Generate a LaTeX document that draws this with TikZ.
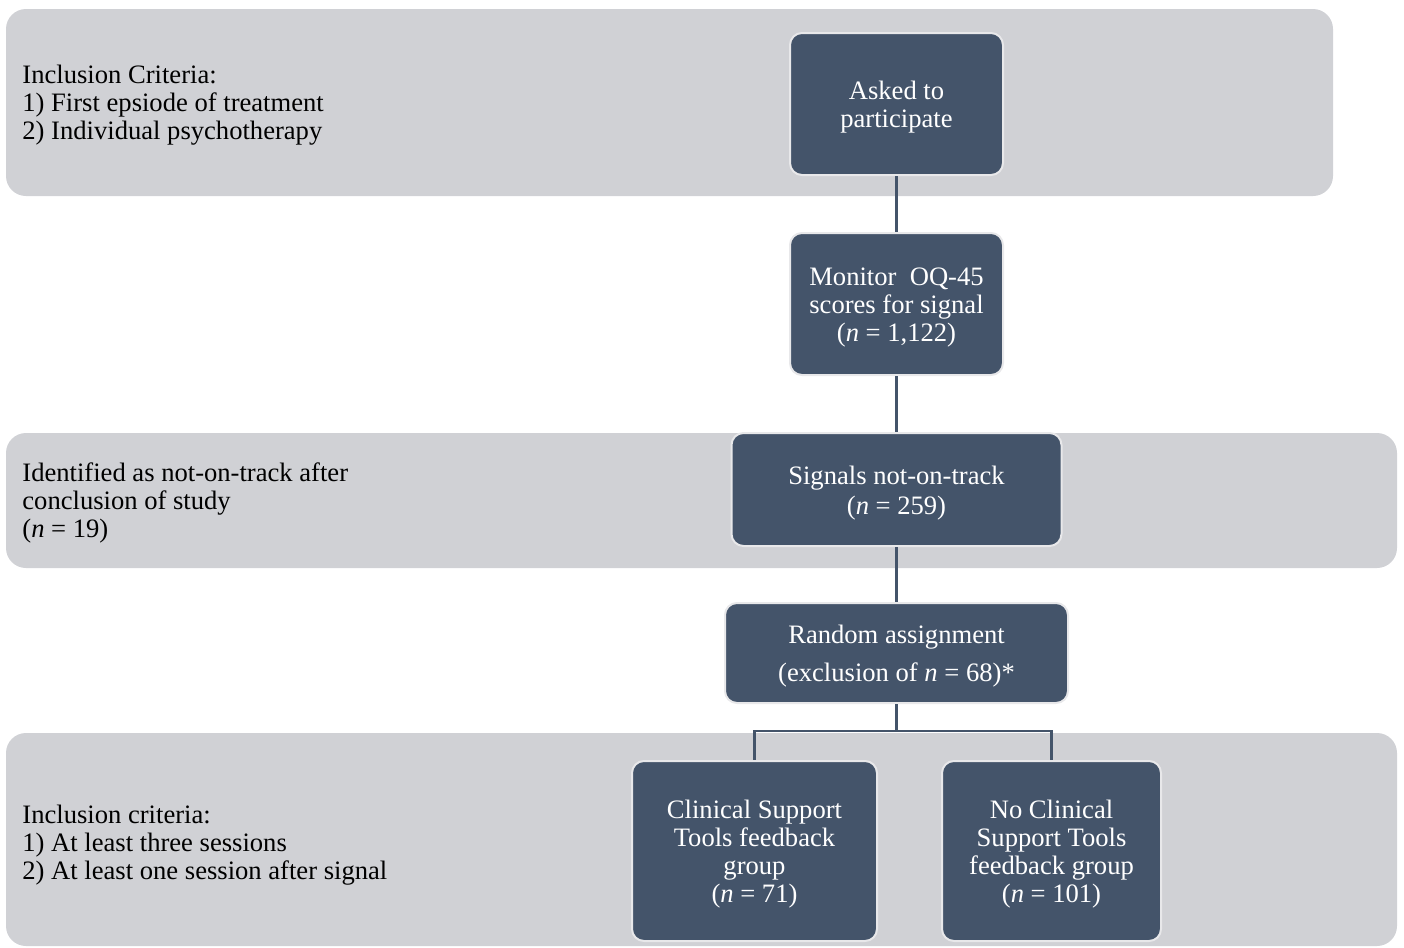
\documentclass[tikz,border=0pt]{standalone}
\usepackage{fontspec}
\setmainfont{Liberation Serif}
\definecolor{bandgray}{HTML}{D0D1D5}
\definecolor{boxblue}{HTML}{44546A}
\definecolor{boxedge}{HTML}{E8E8EA}
\tikzset{
  band/.style={fill=bandgray, rounded corners=10pt, draw=none},
  stepbox/.style={fill=boxblue, draw=boxedge, line width=1pt, rounded corners=6pt, inner sep=0pt},
  steptext/.style={text=white, align=center, font=\fontsize{13.3}{14}\selectfont, inner sep=0pt, yshift=-1.6pt},
  bandtext/.style={anchor=west, align=left, font=\fontsize{13.3}{14}\selectfont, text=black, inner sep=0pt},
  link/.style={draw=boxblue, line width=1.1pt}
}
\begin{document}
\begin{tikzpicture}[x=0.5pt,y=-0.5pt]
\useasboundingbox (0,0) rectangle (1404,948);
% bands
\fill[band] (6,9) rectangle (1333,196);
\fill[band] (6,433) rectangle (1397,568);
\fill[band] (6,733) rectangle (1397,946);
% band texts
\node[bandtext] (t1) at (22,105) {Inclusion Criteria:\\1) First epsiode of treatment\\2) Individual psychotherapy};
\node[bandtext] (t2) at (22,502.5) {Identified as not-on-track after\\conclusion of study\\(\textit{n} = 19)};
\node[bandtext] (t3) at (22,845.5) {Inclusion criteria:\\1) At least three sessions\\2) At least one session after signal};
% boxes
\node[stepbox, minimum width=106.5pt, minimum height=71pt] (asked) at (896.5,104) {};
\node[stepbox, minimum width=106.5pt, minimum height=71pt] (monitor) at (896.5,304) {};
\node[stepbox, minimum width=165pt, minimum height=56.5pt] (signals) at (896.5,489.5) {};
\node[stepbox, minimum width=171.5pt, minimum height=50pt] (random) at (896.5,653) {};
\node[stepbox, minimum width=122.5pt, minimum height=90pt] (cst) at (754.5,851) {};
\node[stepbox, minimum width=109.5pt, minimum height=90pt] (nocst) at (1051.5,851) {};
% box texts
\node[steptext] (askedt) at (asked) {Asked to\\participate};
\node[steptext] (monitort) at (monitor) {Monitor~ OQ-45\\scores for signal\\(\textit{n} = 1,122)};
\node[steptext] (signalst) at (signals) {Signals not-on-track\\[1pt](\textit{n} = 259)};
\node[steptext] (randomt) at (random) {Random assignment\\[5pt](exclusion of \textit{n} = 68)*};
\node[steptext] (cstt) at (cst) {Clinical Support\\Tools feedback\\group\\(\textit{n} = 71)};
\node[steptext] (nocstt) at (nocst) {No Clinical\\Support Tools\\feedback group\\(\textit{n} = 101)};
% connectors
\coordinate (split) at (896.5,731);
\draw[link] (asked.south) -- (monitor.north);
\draw[link] (monitor.south) -- (signals.north);
\draw[link] (signals.south) -- (random.north);
\draw[link] (random.south) -- (split);
\draw[link] (split) -| (cst.north);
\draw[link] (split) -| (nocst.north);
\end{tikzpicture}
\end{document}
